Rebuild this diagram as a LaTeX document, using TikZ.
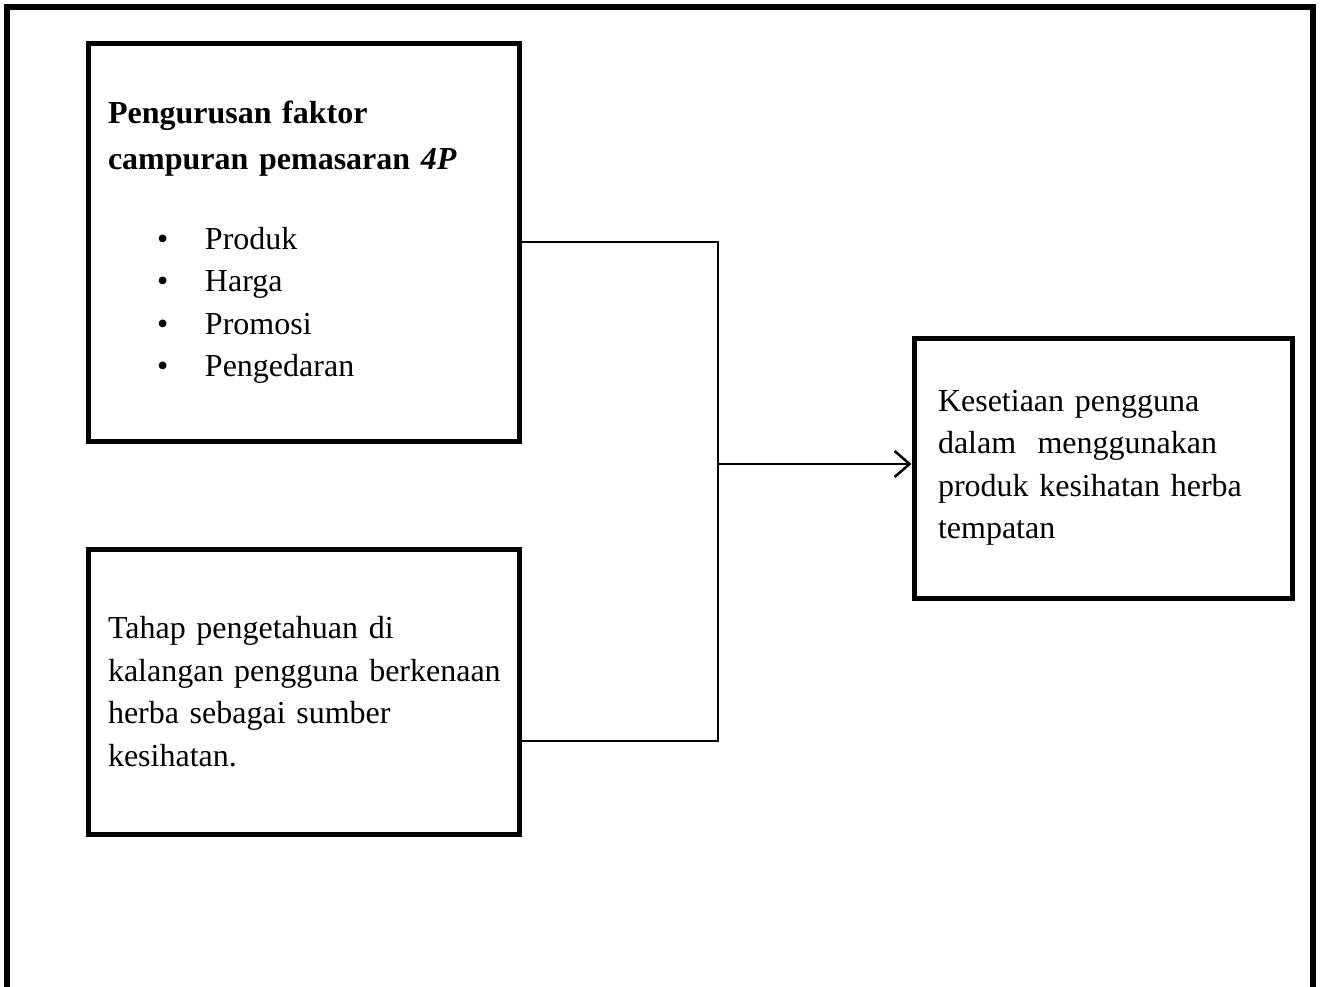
\documentclass[tikz,border=0pt]{standalone}
\usepackage{fontspec}
\setmainfont{Liberation Serif}
\usetikzlibrary{arrows.meta}
\newcommand\bitem{\makebox[97pt][l]{\hspace*{49pt}\textbullet}}
\begin{document}
\begin{tikzpicture}[x=1pt,y=-1pt]
\tikzset{
  frame/.style={line width=6pt, line join=miter},
  box/.style={draw, line width=5pt, inner xsep=20pt, inner ysep=0pt,
    align=left, font=\fontsize{32}{42.5}\selectfont},
  conn/.style={line width=2.5pt},
  tip/.style={-{Straight Barb[length=15pt,width=26pt]}}
}
\clip (0,0) rectangle (1321,986);
% outer frame, open at the bottom
\draw[frame] (7,1000) -- (7,7) -- (1313,7) -- (1313,1000);

% marketing mix box
\node[box, minimum width=431pt, minimum height=398pt, text width=391pt]
  (mix) at (303.5,242) {%
  \textbf{Pengurusan faktor}\\[3.5pt]
  \textbf{campuran pemasaran \textit{4P}}\\[37.5pt]
  \bitem Produk\\
  \bitem Harga\\
  \bitem Promosi\\
  \bitem Pengedaran};

% knowledge box
\node[box, minimum width=431pt, minimum height=285pt, text width=391pt]
  (know) at (303.5,691.5) {%
  Tahap pengetahuan di\\
  \mbox{kalangan pengguna berkenaan}\\
  herba sebagai sumber\\
  kesihatan.};

% loyalty box
\node[box, inner xsep=24pt, minimum width=378pt, minimum height=260pt, text width=330pt]
  (loyal) at (1103,468) {%
  Kesetiaan pengguna\\
  dalam\ \ menggunakan\\
  produk kesihatan herba\\
  tempatan};

% connectors
\coordinate (mid) at (718,464);
\draw[conn] (mid) |- (mix.east);
\draw[conn] (mid) |- ([yshift=-49.5pt]know.east);
\draw[conn, tip] (mid) -- ([yshift=4pt]loyal.west);
\end{tikzpicture}
\end{document}
